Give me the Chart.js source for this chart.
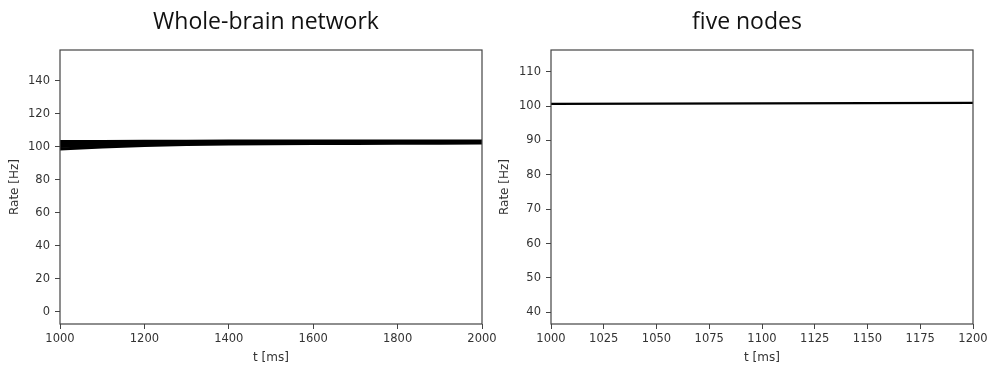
<!DOCTYPE html>
<html>
<head>
<meta charset="utf-8">
<title>Rate traces</title>
<script src="https://cdn.jsdelivr.net/npm/chart.js@4.4.0/dist/chart.umd.min.js"></script>
<style>
  html, body { margin: 0; padding: 0; background: #fff; }
  #wrap { position: relative; width: 991px; height: 371px; overflow: hidden; }
  canvas { position: absolute; top: 0; }
  #wholeBrain { left: 0; }
  #fiveNodes { left: 490px; }
</style>
</head>
<body>
<div id="wrap">
  <canvas id="wholeBrain" width="520" height="371"></canvas>
  <canvas id="fiveNodes" width="501" height="371"></canvas>
</div>
<script>
// whole-brain network: a handful of node traces, they spread out at the start and converge
const brainTimes = [1000, 1100, 1200, 1300, 1400, 1500, 1600, 1700, 1800, 1900, 2000];
const brainNodeA = [103.0, 103.1, 103.2, 103.2, 103.3, 103.3, 103.3, 103.4, 103.4, 103.4, 103.4];
const brainNodeB = [101.5, 102.0, 102.3, 102.5, 102.6, 102.7, 102.8, 102.8, 102.9, 102.9, 103.0];
const brainNodeC = [100.0, 101.0, 101.6, 102.0, 102.2, 102.3, 102.4, 102.5, 102.5, 102.6, 102.6];
const brainNodeD = [98.5, 99.8, 100.7, 101.2, 101.5, 101.7, 101.8, 101.9, 102.0, 102.0, 102.1];

// five nodes
const nodeTimes = [1000, 1050, 1100, 1150, 1200];
const nodeRate = [100.6, 100.7, 100.75, 100.85, 100.9];

// tick labels
const brainXTicks = [1000, 1200, 1400, 1600, 1800, 2000];
const brainYTicks = [0, 20, 40, 60, 80, 100, 120, 140];
const nodeXTicks = [1000, 1025, 1050, 1075, 1100, 1125, 1150, 1175, 1200];
const nodeYTicks = [40, 50, 60, 70, 80, 90, 100, 110];

const tickFont = { family: 'DejaVu Sans', size: 11.5 };
const axisFont = { family: 'DejaVu Sans', size: 12 };

// box around the plot area, like matplotlib spines
const framePlugin = {
  id: 'frame',
  afterDraw(chart) {
    const { ctx, chartArea: a } = chart;
    ctx.save();
    ctx.strokeStyle = '#444';
    ctx.lineWidth = 1.2;
    ctx.strokeRect(a.left, a.top, a.right - a.left, a.bottom - a.top);
    ctx.restore();
  }
};

// title drawn at a given x (the built-in one centres on the canvas)
const panelTitle = {
  id: 'panelTitle',
  afterDraw(chart, args, opts) {
    const { ctx } = chart;
    ctx.save();
    ctx.font = '23px "Open Sans"';
    ctx.fillStyle = '#111';
    ctx.textAlign = 'center';
    ctx.textBaseline = 'alphabetic';
    ctx.fillText(opts.text, opts.x, 29);
    ctx.restore();
  }
};

function makeChart(id, cfg) {
  const datasets = cfg.series.map(s => ({
    data: cfg.times.map((t, i) => ({ x: t, y: s[i] })),
    borderColor: '#000',
    borderWidth: cfg.lineWidth,
    pointRadius: 0,
    tension: 0
  }));

  return new Chart(document.getElementById(id), {
    type: 'line',
    data: { datasets },
    options: {
      responsive: false,
      animation: false,
      events: [],
      layout: { padding: { left: 0, right: cfg.padRight, top: 50, bottom: 0 } },
      plugins: {
        legend: { display: false },
        tooltip: { enabled: false },
        panelTitle: { text: cfg.title, x: cfg.titleX }
      },
      scales: {
        x: {
          type: 'linear',
          min: cfg.xMin,
          max: cfg.xMax,
          afterBuildTicks: s => { s.ticks = cfg.xTicks.map(v => ({ value: v })); },
          afterFit: s => { s.height = 47; },
          border: { display: false },
          grid: { drawOnChartArea: false, drawTicks: true, tickLength: 5, tickColor: '#444' },
          ticks: { autoSkip: false, maxRotation: 0, padding: 3, color: '#333', font: tickFont, callback: v => String(v) },
          title: { display: true, text: 't [ms]', color: '#333', font: axisFont, padding: { top: 0, bottom: 6 } }
        },
        y: {
          type: 'linear',
          min: cfg.yMin,
          max: cfg.yMax,
          afterBuildTicks: s => { s.ticks = cfg.yTicks.map(v => ({ value: v })); },
          afterFit: s => { s.width = cfg.yWidth; },
          border: { display: false },
          grid: { drawOnChartArea: false, drawTicks: true, tickLength: 5, tickColor: '#444' },
          ticks: { padding: 5, color: '#333', font: tickFont, callback: v => String(v) },
          title: { display: true, text: 'Rate [Hz]', color: '#333', font: axisFont, padding: { top: 8, bottom: 0 } }
        }
      }
    },
    plugins: [framePlugin, panelTitle]
  });
}

makeChart('wholeBrain', {
  title: 'Whole-brain network',
  titleX: 266,
  times: brainTimes,
  series: [brainNodeA, brainNodeB, brainNodeC, brainNodeD],
  lineWidth: 3,
  xMin: 1000, xMax: 2000, xTicks: brainXTicks,
  yMin: -7.5, yMax: 158.5, yTicks: brainYTicks,
  yWidth: 60, padRight: 38
});

makeChart('fiveNodes', {
  title: 'five nodes',
  titleX: 257,
  times: nodeTimes,
  series: [nodeRate],
  lineWidth: 2.2,
  xMin: 1000, xMax: 1200, xTicks: nodeXTicks,
  yMin: 36.6, yMax: 116.3, yTicks: nodeYTicks,
  yWidth: 61, padRight: 18
});
</script>
</body>
</html>
